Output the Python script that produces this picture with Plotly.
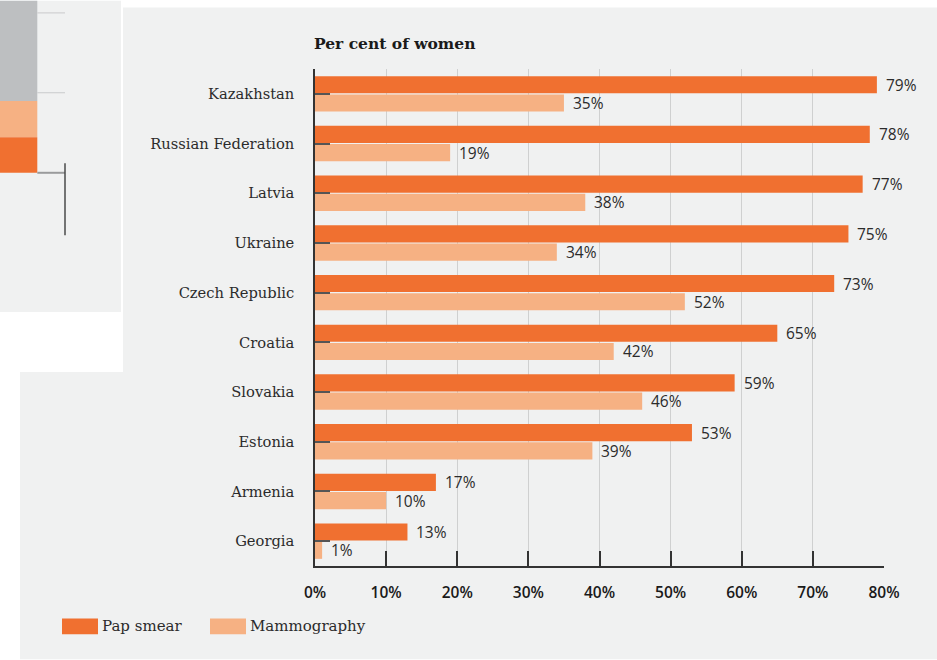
import plotly.graph_objects as go

# Screening coverage, per cent of women
countries = ["Kazakhstan", "Russian Federation", "Latvia", "Ukraine", "Czech Republic",
             "Croatia", "Slovakia", "Estonia", "Armenia", "Georgia"]
pap_smear = [79, 78, 77, 75, 73, 65, 59, 53, 17, 13]
mammography = [35, 19, 38, 34, 52, 42, 46, 39, 10, 1]
x_ticks = [0, 10, 20, 30, 40, 50, 60, 70, 80]

PAP = "#f07030"
MAMMO = "#f6b183"
PANEL = "#f0f1f1"
INK = "#2b2b2b"
SERIF = "DejaVu Serif"
SANS = "Open Sans"

W, H = 937, 660
L, R, T, B = 315, 884, 68.5, 566.5
PW, PH = R - L, B - T
ROW = PH / len(countries)   # pixel height of one country row
BARGAP = 0.266
GROUPGAP = 0.06


def px(x):
    return (x - L) / PW


def py(y):
    return (B - y) / PH


fig = go.Figure()
fig.add_trace(go.Bar(y=countries, x=pap_smear, orientation="h", name="Pap smear",
                     marker=dict(color=PAP, line=dict(width=0)), showlegend=False))
fig.add_trace(go.Bar(y=countries, x=mammography, orientation="h", name="Mammography",
                     marker=dict(color=MAMMO, line=dict(width=0)), showlegend=False))

slot = ROW * (1 - BARGAP) / 2
annotations = []
for vals, sign in [(pap_smear, 1), (mammography, -1)]:
    for c, v in zip(countries, vals):
        annotations.append(dict(x=v, y=c, text=f"{v}%", showarrow=False, xanchor="left",
                                xshift=7, yshift=sign * slot / 2,
                                font=dict(family=SANS, size=15.5, color=INK)))

# Chart title
annotations.append(dict(xref="paper", yref="paper", x=px(315), y=py(43), xanchor="left",
                        yanchor="middle", showarrow=False, xshift=-3,
                        text="<b>Per cent of women</b>",
                        font=dict(family=SERIF, size=15.5, color="#1a1a1a")))

shapes = []

# Background panels
shapes.append(dict(type="path", xref="paper", yref="paper", layer="below",
                   path=(f"M {px(123)},{py(7)} L {px(937)},{py(7)} L {px(937)},{py(660)} "
                         f"L {px(20)},{py(660)} L {px(20)},{py(372)} L {px(123)},{py(372)} Z"),
                   fillcolor=PANEL, line=dict(width=0)))
shapes.append(dict(type="rect", xref="paper", yref="paper", layer="below",
                   x0=px(0), x1=px(121), y0=py(0), y1=py(312),
                   fillcolor=PANEL, line=dict(width=0)))
# Edge of the neighbouring stacked bar
for y0, y1, col in [(0, 100.5, "#bdbfc1"), (100.5, 137, MAMMO), (137, 172.5, PAP)]:
    shapes.append(dict(type="rect", xref="paper", yref="paper", layer="below",
                       x0=px(0), x1=px(37.3), y0=py(y0), y1=py(y1),
                       fillcolor=col, line=dict(width=0)))
for yy in [12.3, 92.3]:
    shapes.append(dict(type="line", xref="paper", yref="paper", layer="below",
                       x0=px(37.3), x1=px(65), y0=py(yy), y1=py(yy),
                       line=dict(color="#c9cacb", width=1)))
shapes.append(dict(type="line", xref="paper", yref="paper", layer="below",
                   x0=px(37.3), x1=px(65), y0=py(172.5), y1=py(172.5),
                   line=dict(color="#9a9b9c", width=2)))
shapes.append(dict(type="line", xref="paper", yref="paper", layer="below",
                   x0=px(65), x1=px(65), y0=py(163), y1=py(235),
                   line=dict(color="#4a4a4a", width=1.5)))

# Legend entries
legend_items = [("Pap smear", PAP, 62), ("Mammography", MAMMO, 210)]
for label, col, x0 in legend_items:
    shapes.append(dict(type="rect", xref="paper", yref="paper",
                       x0=px(x0), x1=px(x0 + 36), y0=py(619), y1=py(635),
                       fillcolor=col, line=dict(width=0)))
    annotations.append(dict(xref="paper", yref="paper", x=px(x0 + 40), y=py(627),
                            xanchor="left", yanchor="middle", showarrow=False, text=label,
                            xshift=-2,
                            font=dict(family=SERIF, size=15, color=INK)))

fig.update_layout(
    width=W, height=H,
    margin=dict(l=L, r=W - R, t=T, b=H - B, pad=0),
    paper_bgcolor="white",
    plot_bgcolor=PANEL,
    barmode="group",
    bargap=BARGAP,
    bargroupgap=GROUPGAP,
    shapes=shapes,
    annotations=annotations,
    showlegend=False,
)
fig.update_xaxes(
    range=[0, 80], tickvals=x_ticks, ticktext=[f"{v}%" for v in x_ticks],
    showgrid=True, gridcolor="#cfd0d0", gridwidth=1, zeroline=False,
    showline=True, linecolor="#333333", linewidth=1.5,
    ticks="inside", ticklen=15, tickcolor="#333333", tickwidth=1.5,
    ticklabelstandoff=12,
    tickfont=dict(family=SANS, size=15.5, color="#1a1a1a", weight=600),
    fixedrange=True,
)
fig.update_yaxes(
    range=[len(countries) - 0.5, -0.5], showgrid=False, zeroline=False,
    showline=True, linecolor="#333333", linewidth=1.5,
    ticks="inside", ticklen=15, tickcolor="#555555", tickwidth=1.5,
    ticklabelstandoff=16,
    tickfont=dict(family=SERIF, size=14.7, color=INK),
    fixedrange=True,
)

fig.write_html("out.html")
